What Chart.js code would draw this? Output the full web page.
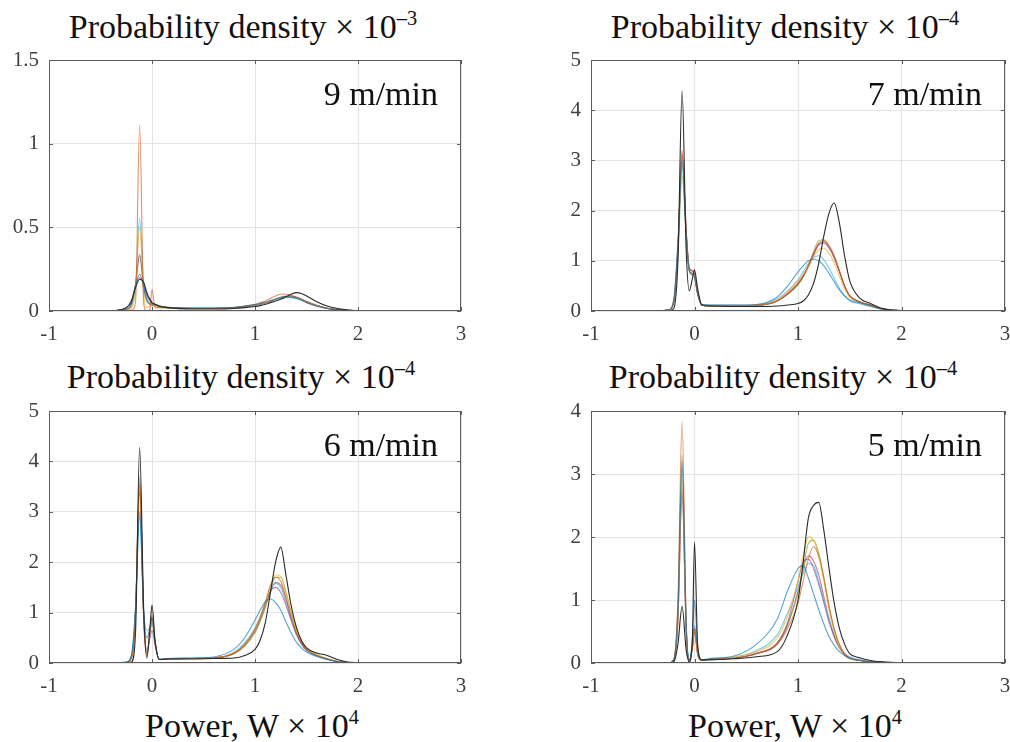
<!DOCTYPE html>
<html>
<head>
<meta charset="utf-8">
<script src="https://cdn.jsdelivr.net/npm/chart.js@4.4.0/dist/chart.umd.min.js"></script>
<style>
  html, body { margin: 0; padding: 0; background: #fff; overflow: hidden; }
  body { width: 1010px; height: 742px; position: relative; font-family: "Liberation Serif", serif; }
  canvas { position: absolute; }
  .ttl { position: absolute; width: 500px; text-align: center; font-size: 34px; line-height: 34px; color: #111; white-space: nowrap; }
  .ttl .sup { font-size: 0.6em; vertical-align: 0.62em; line-height: 0; }
</style>
</head>
<body>
<div class="ttl" style="left:-7px; top:10px">Probability density × 10<span class="sup">–3</span></div>
<div class="ttl" style="left:535px; top:10px">Probability density × 10<span class="sup">–4</span></div>
<div class="ttl" style="left:-9px; top:360px">Probability density × 10<span class="sup">–4</span></div>
<div class="ttl" style="left:533px; top:360px">Probability density × 10<span class="sup">–4</span></div>
<div class="ttl" style="left:2px; top:709px">Power, W × 10<span class="sup">4</span></div>
<div class="ttl" style="left:545px; top:709px">Power, W × 10<span class="sup">4</span></div>

<canvas id="c9" width="467" height="303" style="left:4px; top:48px"></canvas>
<canvas id="c7" width="469" height="303" style="left:546px; top:48px"></canvas>
<canvas id="c6" width="467" height="304" style="left:4px; top:399px"></canvas>
<canvas id="c5" width="469" height="304" style="left:546px; top:399px"></canvas>

<script>
// power (W x 10^4) at which every density curve is sampled
const powerX = [-0.4, -0.25, -0.2, -0.16, -0.12, -0.08, -0.05, -0.02, 0.0, 0.03, 0.07, 0.15, 0.4, 0.6, 0.8, 0.9,
  1.0, 1.05, 1.1, 1.15, 1.2, 1.25, 1.3, 1.35, 1.4, 1.45, 1.5, 1.6, 1.7, 1.8, 1.9, 2.0, 2.3];

const runLabels = ['Run 8', 'Run 1', 'Run 2', 'Run 3', 'Run 4', 'Run 5', 'Run 6', 'Run 7'];
const runColors = ['#2a2a2a', 'rgba(0,114,189,0.65)', 'rgba(217,83,25,0.65)', 'rgba(237,177,32,0.7)',
  'rgba(126,47,142,0.6)', 'rgba(119,172,48,0.7)', 'rgba(77,190,238,0.8)', 'rgba(162,20,47,0.55)'];

const speedLabels = ['9 m/min', '7 m/min', '6 m/min', '5 m/min'];
const yMaxes = [1.5, 5, 5, 4];
const ySteps = [0.5, 1, 1, 1];

// 9 m/min, x 10^-3
const v9Black = [0, 0.02, 0.06, 0.14, 0.19, 0.17, 0.11, 0.07, 0.05, 0.04, 0.03, 0.02, 0.012, 0.012, 0.015, 0.02, 0.027, 0.032, 0.04, 0.05, 0.06, 0.07, 0.085, 0.1, 0.11, 0.105, 0.09, 0.055, 0.03, 0.015, 0.006, 0.003, 0];
const v9Blue = [0, 0.015, 0.05, 0.15, 0.22, 0.15, 0.09, 0.06, 0.045, 0.04, 0.03, 0.022, 0.018, 0.018, 0.022, 0.03, 0.038, 0.045, 0.052, 0.062, 0.072, 0.08, 0.085, 0.083, 0.077, 0.067, 0.052, 0.03, 0.015, 0.008, 0.004, 0.002, 0];
const v9Orange = [0, 0, 0.005, 0.05, 1.11, 0.04, 0.0, 0.01, 0.13, 0.02, 0.02, 0.02, 0.015, 0.015, 0.02, 0.03, 0.04, 0.05, 0.06, 0.075, 0.09, 0.1, 0.1, 0.095, 0.08, 0.065, 0.05, 0.03, 0.015, 0.008, 0.004, 0.002, 0];
const v9Yellow = [0, 0.005, 0.02, 0.12, 0.5, 0.1, 0.02, 0.03, 0.05, 0.03, 0.02, 0.018, 0.015, 0.015, 0.02, 0.028, 0.036, 0.042, 0.05, 0.06, 0.07, 0.08, 0.085, 0.085, 0.08, 0.07, 0.055, 0.032, 0.016, 0.008, 0.004, 0.002, 0];
const v9Purple = [0, 0.01, 0.04, 0.16, 0.33, 0.14, 0.07, 0.045, 0.04, 0.035, 0.028, 0.02, 0.015, 0.015, 0.019, 0.025, 0.033, 0.04, 0.048, 0.058, 0.07, 0.082, 0.09, 0.09, 0.082, 0.07, 0.055, 0.032, 0.016, 0.008, 0.004, 0.002, 0];
const v9Green = [0, 0.01, 0.04, 0.15, 0.34, 0.13, 0.06, 0.04, 0.035, 0.03, 0.025, 0.02, 0.016, 0.016, 0.02, 0.027, 0.035, 0.042, 0.05, 0.06, 0.07, 0.08, 0.085, 0.085, 0.08, 0.07, 0.055, 0.032, 0.016, 0.008, 0.004, 0.002, 0];
const v9Cyan = [0, 0.01, 0.03, 0.15, 0.55, 0.15, 0.06, 0.04, 0.035, 0.03, 0.025, 0.02, 0.017, 0.017, 0.02, 0.027, 0.035, 0.04, 0.05, 0.06, 0.07, 0.075, 0.08, 0.08, 0.075, 0.065, 0.05, 0.03, 0.015, 0.008, 0.004, 0.002, 0.001];
const v9Red = [0, 0.02, 0.06, 0.15, 0.2, 0.16, 0.1, 0.065, 0.05, 0.04, 0.03, 0.022, 0.016, 0.016, 0.02, 0.028, 0.036, 0.043, 0.05, 0.06, 0.07, 0.08, 0.087, 0.088, 0.083, 0.072, 0.058, 0.034, 0.017, 0.008, 0.004, 0.002, 0];

// 7 m/min, x 10^-4
const v7Black = [0, 0, 0.05, 1.0, 4.38, 1.2, 0.4, 0.65, 0.82, 0.45, 0.12, 0.1, 0.09, 0.09, 0.1, 0.12, 0.15, 0.2, 0.32, 0.55, 0.95, 1.5, 1.95, 2.15, 1.75, 1.1, 0.6, 0.25, 0.15, 0.06, 0.02, 0.01, 0];
const v7Blue = [0, 0.02, 0.2, 1.3, 3.0, 1.5, 0.8, 0.72, 0.68, 0.35, 0.13, 0.12, 0.12, 0.13, 0.28, 0.5, 0.78, 0.9, 1.0, 1.03, 1.0, 0.9, 0.75, 0.58, 0.42, 0.3, 0.22, 0.16, 0.1, 0.04, 0.02, 0.01, 0];
const v7Orange = [0, 0.02, 0.2, 1.3, 3.2, 1.6, 0.8, 0.75, 0.7, 0.35, 0.12, 0.1, 0.1, 0.11, 0.2, 0.35, 0.55, 0.7, 0.9, 1.15, 1.35, 1.4, 1.3, 1.1, 0.8, 0.5, 0.3, 0.18, 0.12, 0.05, 0.02, 0.01, 0];
const v7Yellow = [0, 0.02, 0.2, 1.25, 3.1, 1.55, 0.8, 0.75, 0.7, 0.35, 0.12, 0.1, 0.1, 0.11, 0.22, 0.38, 0.6, 0.72, 0.88, 1.08, 1.22, 1.25, 1.15, 0.95, 0.7, 0.45, 0.27, 0.16, 0.1, 0.04, 0.02, 0.01, 0];
const v7Purple = [0, 0.02, 0.2, 1.3, 3.1, 1.6, 0.85, 0.8, 0.72, 0.35, 0.12, 0.1, 0.1, 0.11, 0.2, 0.34, 0.55, 0.7, 0.9, 1.12, 1.32, 1.35, 1.25, 1.05, 0.78, 0.5, 0.3, 0.18, 0.12, 0.05, 0.02, 0.01, 0];
const v7Green = [0, 0.02, 0.15, 1.1, 2.7, 1.5, 0.8, 0.75, 0.7, 0.35, 0.12, 0.1, 0.1, 0.11, 0.2, 0.33, 0.52, 0.68, 0.9, 1.18, 1.4, 1.42, 1.3, 1.08, 0.8, 0.5, 0.3, 0.18, 0.12, 0.05, 0.02, 0.01, 0];
const v7Cyan = [0, 0.03, 0.25, 1.4, 2.9, 1.5, 0.8, 0.72, 0.68, 0.35, 0.13, 0.12, 0.12, 0.13, 0.24, 0.4, 0.62, 0.78, 0.95, 1.06, 1.1, 1.02, 0.85, 0.65, 0.45, 0.3, 0.2, 0.14, 0.09, 0.04, 0.02, 0.01, 0];
const v7Red = [0, 0.02, 0.18, 1.2, 3.15, 1.55, 0.85, 0.8, 0.75, 0.35, 0.12, 0.1, 0.1, 0.11, 0.2, 0.34, 0.53, 0.68, 0.88, 1.12, 1.33, 1.38, 1.28, 1.08, 0.8, 0.5, 0.3, 0.18, 0.12, 0.05, 0.02, 0.01, 0];

// 6 m/min, x 10^-4
const v6Black = [0, 0, 0.02, 0.6, 4.28, 1.0, 0.1, 0.7, 1.15, 0.45, 0.07, 0.08, 0.08, 0.09, 0.1, 0.15, 0.27, 0.45, 0.8, 1.4, 2.0, 2.3, 1.75, 1.15, 0.72, 0.45, 0.3, 0.2, 0.15, 0.07, 0.02, 0.01, 0];
const v6Blue = [0, 0.02, 0.15, 1.1, 3.0, 1.0, 0.5, 0.7, 0.9, 0.4, 0.08, 0.09, 0.1, 0.12, 0.28, 0.5, 0.85, 1.05, 1.22, 1.27, 1.2, 1.05, 0.82, 0.6, 0.42, 0.3, 0.22, 0.13, 0.07, 0.03, 0.01, 0.005, 0];
const v6Orange = [0, 0.01, 0.1, 1.0, 3.7, 0.8, 0.15, 0.6, 0.95, 0.4, 0.07, 0.08, 0.09, 0.1, 0.2, 0.37, 0.67, 0.9, 1.2, 1.55, 1.7, 1.62, 1.3, 0.92, 0.6, 0.4, 0.26, 0.15, 0.08, 0.03, 0.01, 0.005, 0];
const v6Yellow = [0, 0.01, 0.1, 1.0, 3.6, 0.9, 0.15, 0.6, 0.9, 0.4, 0.07, 0.08, 0.09, 0.1, 0.2, 0.36, 0.65, 0.88, 1.15, 1.5, 1.75, 1.72, 1.4, 1.0, 0.65, 0.42, 0.28, 0.16, 0.08, 0.03, 0.01, 0.005, 0];
const v6Purple = [0, 0.01, 0.1, 1.0, 3.4, 0.9, 0.25, 0.5, 0.65, 0.35, 0.07, 0.08, 0.09, 0.1, 0.2, 0.36, 0.65, 0.88, 1.15, 1.42, 1.5, 1.4, 1.15, 0.85, 0.58, 0.38, 0.26, 0.15, 0.08, 0.03, 0.01, 0.005, 0];
const v6Green = [0, 0.01, 0.1, 1.0, 3.5, 0.9, 0.2, 0.6, 0.9, 0.4, 0.07, 0.08, 0.09, 0.1, 0.19, 0.34, 0.6, 0.82, 1.1, 1.45, 1.7, 1.7, 1.42, 1.02, 0.68, 0.44, 0.3, 0.17, 0.09, 0.03, 0.01, 0.005, 0];
const v6Cyan = [0, 0.02, 0.15, 1.1, 2.9, 1.0, 0.65, 0.7, 0.9, 0.4, 0.08, 0.09, 0.1, 0.1, 0.22, 0.4, 0.7, 0.92, 1.2, 1.45, 1.58, 1.5, 1.22, 0.88, 0.58, 0.38, 0.25, 0.14, 0.07, 0.03, 0.01, 0.005, 0];
const v6Red = [0, 0.01, 0.1, 1.0, 3.55, 0.9, 0.2, 0.55, 0.85, 0.4, 0.07, 0.08, 0.09, 0.1, 0.19, 0.34, 0.62, 0.85, 1.12, 1.42, 1.6, 1.55, 1.28, 0.92, 0.6, 0.4, 0.27, 0.15, 0.08, 0.03, 0.01, 0.005, 0];

// 5 m/min, x 10^-4
const v5Black = [0, 0, 0.02, 0.3, 0.9, 0.2, 0.02, 0.4, 1.92, 0.3, 0.05, 0.05, 0.07, 0.1, 0.18, 0.45, 1.0, 1.6, 2.3, 2.5, 2.55, 2.1, 1.5, 0.95, 0.55, 0.3, 0.15, 0.08, 0.04, 0.02, 0.01, 0.005, 0];
const v5Blue = [0, 0, 0.05, 0.8, 3.2, 0.6, 0.05, 0.4, 1.0, 0.25, 0.05, 0.07, 0.12, 0.3, 0.7, 1.15, 1.5, 1.55, 1.35, 1.1, 0.85, 0.62, 0.42, 0.28, 0.18, 0.12, 0.08, 0.04, 0.02, 0.01, 0.005, 0, 0];
const v5Orange = [0, 0, 0.06, 1.0, 3.83, 0.6, 0.03, 0.25, 0.5, 0.15, 0.04, 0.06, 0.08, 0.15, 0.3, 0.55, 0.95, 1.3, 1.65, 1.85, 1.7, 1.35, 0.9, 0.55, 0.3, 0.15, 0.08, 0.04, 0.02, 0.01, 0.005, 0, 0];
const v5Yellow = [0, 0, 0.04, 0.7, 2.9, 0.5, 0.03, 0.25, 0.5, 0.15, 0.04, 0.06, 0.1, 0.18, 0.4, 0.75, 1.3, 1.7, 2.0, 1.95, 1.7, 1.3, 0.85, 0.5, 0.25, 0.12, 0.07, 0.04, 0.02, 0.01, 0.005, 0, 0];
const v5Purple = [0, 0, 0.04, 0.7, 2.7, 0.5, 0.03, 0.25, 0.55, 0.15, 0.04, 0.06, 0.08, 0.15, 0.32, 0.65, 1.3, 1.6, 1.65, 1.5, 1.25, 0.95, 0.65, 0.42, 0.25, 0.14, 0.08, 0.04, 0.02, 0.01, 0.005, 0, 0];
const v5Green = [0, 0, 0.05, 0.9, 3.3, 0.6, 0.03, 0.25, 0.5, 0.15, 0.04, 0.06, 0.08, 0.15, 0.32, 0.62, 1.1, 1.5, 1.9, 1.95, 1.75, 1.35, 0.9, 0.52, 0.27, 0.13, 0.07, 0.04, 0.02, 0.01, 0.005, 0, 0];
const v5Cyan = [0, 0, 0.05, 0.8, 3.1, 0.6, 0.05, 0.3, 0.6, 0.2, 0.05, 0.06, 0.1, 0.2, 0.45, 0.8, 1.2, 1.42, 1.58, 1.55, 1.3, 1.0, 0.7, 0.45, 0.28, 0.15, 0.1, 0.05, 0.03, 0.015, 0.005, 0, 0];
const v5Red = [0, 0, 0.04, 0.7, 2.8, 0.5, 0.03, 0.25, 0.55, 0.15, 0.04, 0.06, 0.08, 0.15, 0.3, 0.6, 1.15, 1.5, 1.7, 1.62, 1.4, 1.05, 0.7, 0.42, 0.24, 0.13, 0.07, 0.04, 0.02, 0.01, 0.005, 0, 0];

// black first so it is drawn on top
const panelSeries = [
    [v9Black, v9Blue, v9Orange, v9Yellow, v9Purple, v9Green, v9Cyan, v9Red],
    [v7Black, v7Blue, v7Orange, v7Yellow, v7Purple, v7Green, v7Cyan, v7Red],
    [v6Black, v6Blue, v6Orange, v6Yellow, v6Purple, v6Green, v6Cyan, v6Red],
    [v5Black, v5Blue, v5Orange, v5Yellow, v5Purple, v5Green, v5Cyan, v5Red],
];
const canvasIds = ['c9', 'c7', 'c6', 'c5'];

const tickFont = {family: '"Liberation Serif", serif', size: 21};

// box round the plot, inward ticks and the speed label
const framePlugin = {
    id: 'frame',
    afterDatasetsDraw(chart, args, opts) {
        const {ctx, chartArea: a, scales} = chart;
        ctx.save();
        ctx.strokeStyle = '#5c5c5c';
        ctx.lineWidth = 1;
        ctx.strokeRect(a.left + 0.5, a.top + 0.5, a.right - a.left - 1, a.bottom - a.top - 1);
        ctx.beginPath();
        scales.x.ticks.forEach((t) => {
            const px = Math.round(scales.x.getPixelForValue(t.value)) + 0.5;
            ctx.moveTo(px, a.bottom);
            ctx.lineTo(px, a.bottom - 4);
            ctx.moveTo(px, a.top);
            ctx.lineTo(px, a.top + 4);
        });
        scales.y.ticks.forEach((t) => {
            const py = Math.round(scales.y.getPixelForValue(t.value)) + 0.5;
            ctx.moveTo(a.left, py);
            ctx.lineTo(a.left + 4, py);
            ctx.moveTo(a.right, py);
            ctx.lineTo(a.right - 4, py);
        });
        ctx.stroke();
        ctx.fillStyle = '#111';
        ctx.font = '34px "Liberation Serif", serif';
        ctx.textAlign = 'right';
        ctx.textBaseline = 'alphabetic';
        ctx.fillText(opts.text, a.right - 23, a.top + 45);
        ctx.restore();
    }
};

function buildOptions(p) {
    return {
        responsive: false,
        animation: false,
        layout: {padding: {top: 12, right: 10, left: 0, bottom: 0}},
        plugins: {
            legend: {display: false},
            tooltip: {enabled: false},
            frame: {text: speedLabels[p]}
        },
        scales: {
            x: {
                type: 'linear', min: -1, max: 3,
                ticks: {stepSize: 1, padding: 11, color: '#404040', font: tickFont, maxRotation: 0, callback: (v) => String(v)},
                grid: {color: '#e4e4e4', drawTicks: false},
                border: {display: false},
                afterFit(s) {
                    s.height = 40;
                    s.paddingLeft = 0;
                    s.paddingRight = 0;
                }
            },
            y: {
                min: 0, max: yMaxes[p],
                ticks: {stepSize: ySteps[p], padding: 10, color: '#404040', font: tickFont, callback: (v) => String(v)},
                grid: {color: '#e4e4e4', drawTicks: false},
                border: {display: false},
                afterFit(s) {
                    s.width = 45;
                    s.paddingTop = 0;
                    s.paddingBottom = 0;
                }
            }
        }
    };
}

canvasIds.forEach((id, p) => {
    const datasets = panelSeries[p].map((ys, i) => ({
        label: runLabels[i],
        data: powerX.map((x, k) => ({x: x, y: ys[k]})),
        borderColor: runColors[i],
        borderWidth: 1.1,
        pointRadius: 0,
        fill: false,
        cubicInterpolationMode: 'monotone'
    }));
    new Chart(document.getElementById(id), {
        type: 'line',
        data: {datasets: datasets},
        options: buildOptions(p),
        plugins: [framePlugin]
    });
});
</script>
</body>
</html>
